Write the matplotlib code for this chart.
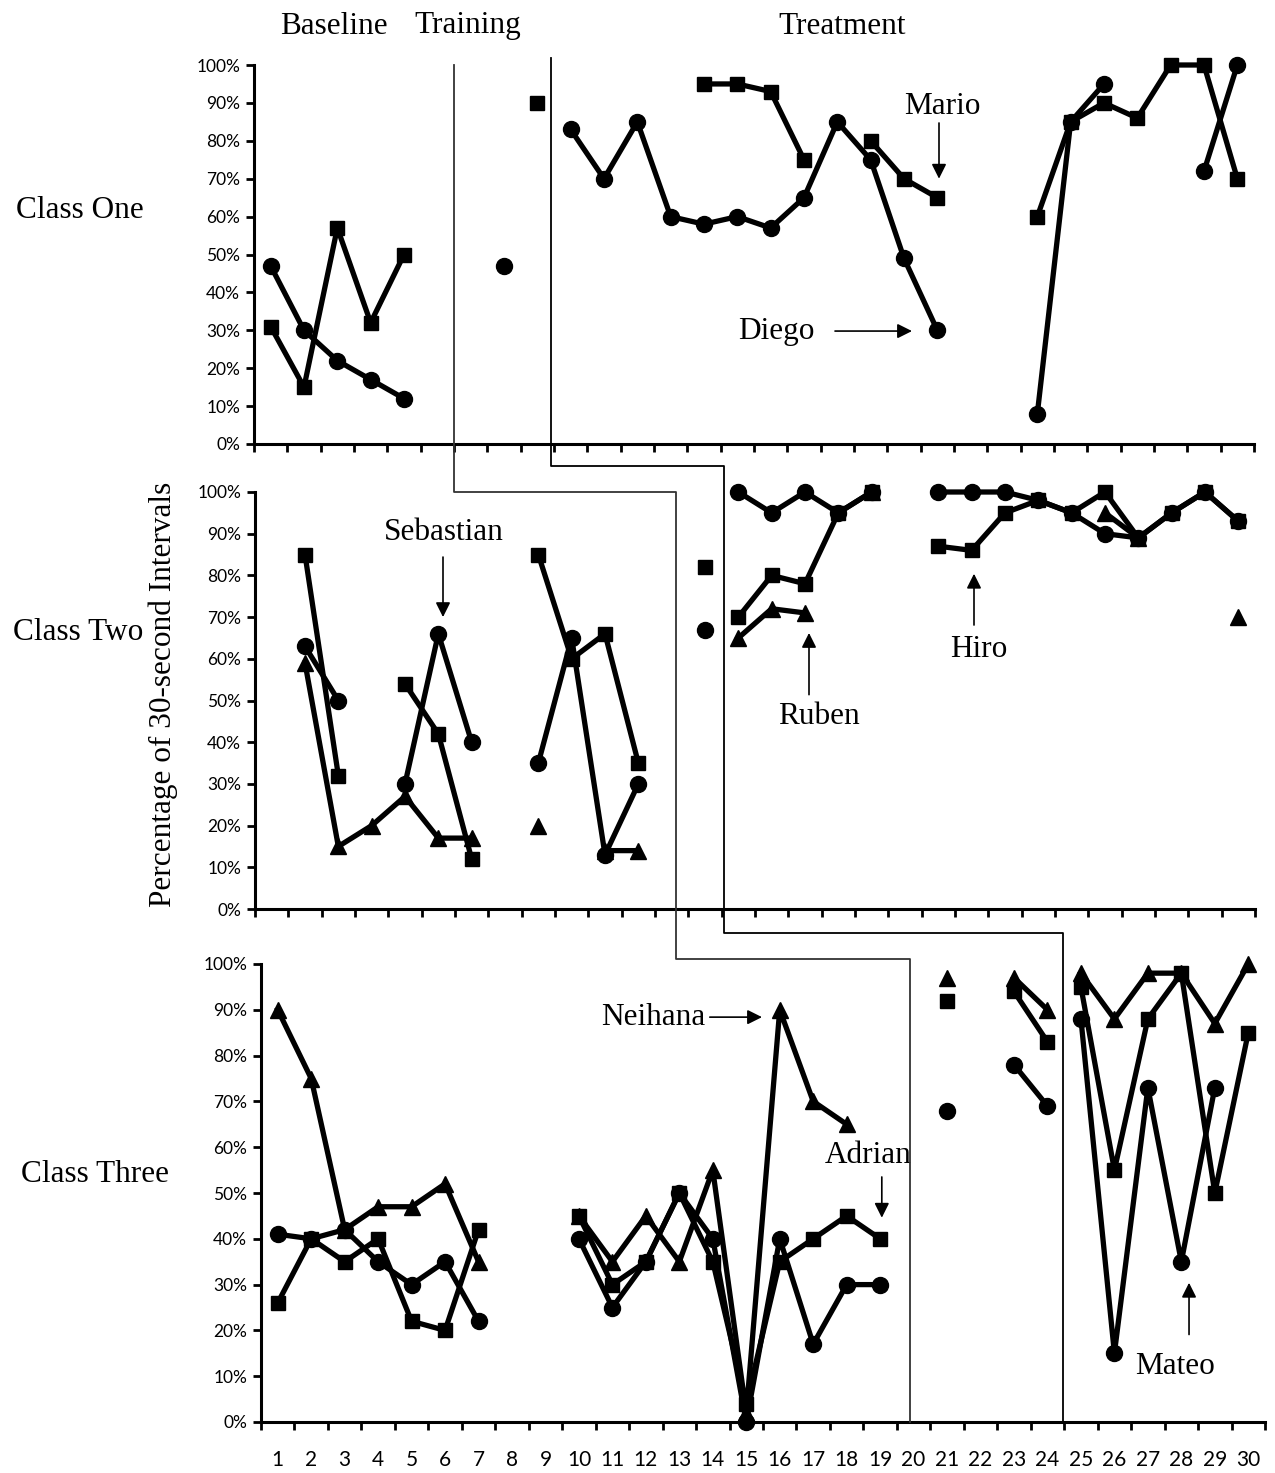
import numpy as np
import matplotlib
matplotlib.use("Agg")
import matplotlib.pyplot as plt
from matplotlib.lines import Line2D

N = np.nan
sessions = np.arange(1, 31)

# Class One (percentages, nan = no data)
one_circle = [47, 30, 22, 17, 12, N, N, 47, N, 83, 70, 85, 60, 58, 60, 57, 65, 85, 75, 49,
              30, N, N, 8, 85, 95, N, N, 72, 100]
one_square = [31, 15, 57, 32, 50, N, N, N, 90, N, N, N, N, 95, 95, 93, 75, N, 80, 70,
              65, N, N, 60, 85, 90, 86, 100, 100, 70]

# Class Two
two_circle = [N, 63, 50, N, 30, 66, 40, N, 35, 65, 13, 30, N, 67, 100, 95, 100, 95, 100, N,
              100, 100, 100, 98, 95, 90, 89, 95, 100, 93]
two_square = [N, 85, 32, N, 54, 42, 12, N, 85, 60, 66, 35, N, 82, 70, 80, 78, 95, 100, N,
              87, 86, 95, 98, 95, 100, 89, 95, 100, 93]
two_triangle = [N, 59, 15, 20, 27, 17, 17, N, 20, N, 14, 14, N, N, 65, 72, 71, N, 100, N,
                N, N, N, N, N, 95, 89, N, N, 70]

# Class Three
three_circle = [41, 40, 42, 35, 30, 35, 22, N, N, 40, 25, 35, 50, 40, 0, 40, 17, 30, 30, N,
                68, N, 78, 69, 88, 15, 73, 35, 73, N]
three_square = [26, 40, 35, 40, 22, 20, 42, N, N, 45, 30, 35, 50, 35, 4, 35, 40, 45, 40, N,
                92, N, 94, 83, 95, 55, 88, 98, 50, 85]
three_triangle = [90, 75, 42, 47, 47, 52, 35, N, N, 45, 35, 45, 35, 55, 2, 90, 70, 65, N, N,
                  97, N, 97, 90, 98, 88, 98, 98, 87, 100]

# where the phase lines cross each class (session units)
one_breaks = [6.5, 9.4]
two_breaks = [13.13, 14.57]
three_breaks = [19.9, 24.45]

class_names = ["Class One", "Class Two", "Class Three"]
phase_names = ["Baseline", "Training", "Treatment"]

W, H = 1275, 1473
fig = plt.figure(figsize=(W / 100, H / 100), dpi=100)

serif = "Liberation Serif"
sans = "Lato"


def add_panel(left, right, top, bottom):
    return fig.add_axes([left / W, 1 - bottom / H, (right - left) / W, (bottom - top) / H])


ax1 = add_panel(254, 1254, 65, 444)
ax2 = add_panel(255, 1255, 492, 909)
ax3 = add_panel(261, 1265, 964, 1422)

line_kw = dict(color="black", lw=3.8, clip_on=False)
mk = {"o": 11.5, "s": 10.5, "^": 12}

panels = [
    (ax1, one_breaks, [(one_circle, "o"), (one_square, "s")]),
    (ax2, two_breaks, [(two_triangle, "^"), (two_circle, "o"), (two_square, "s")]),
    (ax3, three_breaks, [(three_circle, "o"), (three_square, "s"), (three_triangle, "^")]),
]

for ax, breaks, series in panels:
    edges = [0] + breaks + [31]
    for vals, m in series:
        vals = np.array(vals, dtype=float)
        # no connecting line across a phase change
        for lo, hi in zip(edges[:-1], edges[1:]):
            sel = (sessions > lo) & (sessions < hi)
            ax.plot(sessions[sel], vals[sel], marker=m, ms=mk[m], mfc="black", mec="black",
                    **line_kw)
    ax.set_xlim(0.5, 30.5)
    ax.set_ylim(0, 100)
    ax.set_yticks(np.arange(0, 101, 10))
    ax.set_yticklabels([f"{v}%" for v in range(0, 101, 10)], fontfamily=sans, fontsize=12.5)
    ax.set_xticks(np.arange(0.5, 31, 1))
    ax.set_xticklabels([])
    ax.tick_params(axis="both", which="major", direction="out", length=6, width=2, color="black")
    ax.tick_params(axis="y", pad=4)
    for s in ["top", "right"]:
        ax.spines[s].set_visible(False)
    for s in ["left", "bottom"]:
        ax.spines[s].set_linewidth(2.2)
    ax.patch.set_visible(False)

ax3.set_xticks(sessions, minor=True)
ax3.set_xticklabels([str(s) for s in sessions], minor=True, fontfamily=sans, fontsize=15)
ax3.tick_params(axis="x", which="minor", length=0, pad=20)


# phase change lines, staggered across the three classes
def pt(ax_x, x, ax_y, y):
    xd = ax_x.transData.transform((x, 0))[0]
    yd = ax_y.transAxes.transform((0, y))[1]
    return fig.transFigure.inverted().transform((xd, yd))


line1 = [pt(ax1, one_breaks[0], ax1, 1.0), pt(ax1, one_breaks[0], ax2, 1.0),
         pt(ax2, two_breaks[0], ax2, 1.0), pt(ax2, two_breaks[0], ax3, 1.012),
         pt(ax3, three_breaks[0], ax3, 1.012), pt(ax3, three_breaks[0], ax3, 0)]
line2 = [pt(ax1, one_breaks[1], ax1, 1.018), pt(ax1, one_breaks[1], ax2, 1.062),
         pt(ax2, two_breaks[1], ax2, 1.062), pt(ax2, two_breaks[1], ax3, 1.068),
         pt(ax3, three_breaks[1], ax3, 1.068), pt(ax3, three_breaks[1], ax3, 0)]
for path, c in [(line1, "#333333"), (line2, "black")]:
    path = np.array(path)
    fig.add_artist(Line2D(path[:, 0], path[:, 1], color=c, lw=1.3, transform=fig.transFigure))

# headers and labels
fs = 22.5
for name, xpix in zip(phase_names, [334, 468, 842]):
    fig.text(xpix / W, 1 - 26 / H, name, ha="center", va="center", fontfamily=serif, fontsize=fs)
for name, (xpix, ypix) in zip(class_names, [(80, 210), (78, 632), (95, 1175)]):
    fig.text(xpix / W, 1 - ypix / H, name, ha="center", va="center", fontfamily=serif, fontsize=fs)
fig.text(163 / W, 1 - 694 / H, "Percentage of 30-second Intervals", rotation=90,
         ha="center", va="center", fontfamily=serif, fontsize=fs)

arrow = dict(arrowstyle="-|>", color="black", lw=1.2, mutation_scale=22, shrinkA=0, shrinkB=0)


def label(ax, text, txy, tail, tip):
    ax.text(txy[0], txy[1], text, ha="center", va="center", fontfamily=serif, fontsize=fs)
    ax.annotate("", xy=tip, xytext=tail, arrowprops=arrow)


label(ax1, "Mario", (21.14, 89), (21.05, 84.7), (21.05, 70))
label(ax1, "Diego", (16.16, 29.8), (17.93, 29.8), (20.24, 29.8))
label(ax2, "Sebastian", (6.17, 90.2), (6.14, 84.4), (6.14, 70.0))
label(ax2, "Ruben", (17.42, 46.1), (17.12, 51.4), (17.12, 66.2))
label(ax2, "Hiro", (22.22, 62.2), (22.07, 68.1), (22.07, 80.4))
label(ax3, "Neihana", (12.21, 88.4), (13.91, 88.4), (15.47, 88.4))
label(ax3, "Adrian", (18.64, 58.2), (19.05, 53.5), (19.05, 44.6))
label(ax3, "Mateo", (27.81, 12.1), (28.23, 19.1), (28.23, 30.4))

fig.savefig("out.png", dpi=100)
